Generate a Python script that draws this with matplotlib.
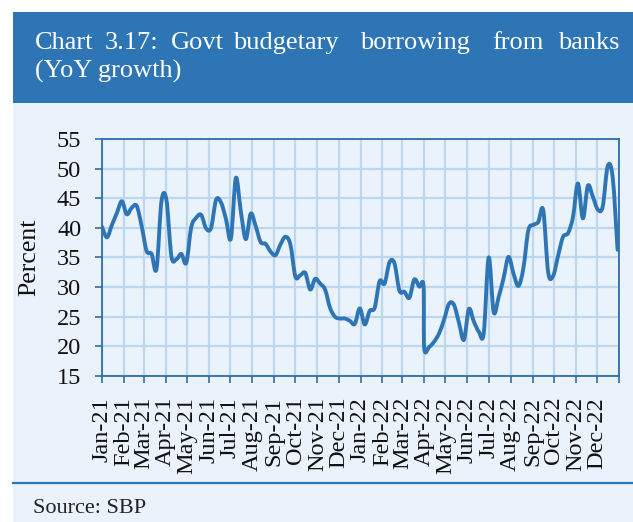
import numpy as np
import pandas as pd
import matplotlib
matplotlib.use('Agg')
import matplotlib.pyplot as plt
import matplotlib.dates as mdates
from matplotlib.path import Path
from matplotlib.patches import PathPatch, Rectangle
from matplotlib.lines import Line2D

# weekly observations (Fridays), YoY growth in percent
weeks = pd.date_range('2021-01-01', '2022-12-30', freq='W-FRI')
growth = [40.2, 38.4, 40.5, 42.5, 44.5, 42.3, 43.4, 43.7, 40.3, 36.1,
          35.6, 33.1, 44.5, 44.7, 35.2, 34.7, 35.6, 34.1, 40.1, 41.7,
          42.2, 39.9, 40.0, 44.7, 44.3, 41.5, 38.2, 48.4, 42.8, 38.1,
          42.4, 40.3, 37.6, 37.3, 36.0, 35.4, 37.2, 38.5, 37.2, 31.8,
          32.0, 32.4, 29.6, 31.4, 30.6, 29.6, 26.5, 25.0, 24.7, 24.7,
          24.3, 23.8, 26.4, 23.7, 26.0, 26.5, 31.0, 30.6, 34.2, 34.0,
          29.4, 29.2, 28.2, 31.3, 30.1, 19.7, 19.9, 20.8, 22.2, 24.5,
          27.2, 27.0, 24.0, 21.1, 26.3, 24.2, 22.5, 22.2, 35.0, 25.8,
          28.3, 31.5, 35.1, 32.3, 30.2, 33.2, 39.6, 40.5, 41.0, 43.0,
          32.5, 31.9, 35.3, 38.5, 39.1, 41.8, 47.5, 41.6, 47.1, 45.3,
          43.1, 43.6, 50.4, 48.6, 36.3]
# one extra end-of-quarter reading
extra_dates = ['2022-03-31']
extra_growth = [30.2]

months = pd.date_range('2021-01-01', '2023-01-01', freq='MS')
month_labels = [m.strftime('%b-%y') for m in months[:-1]] + ['']
yticks = [15, 20, 25, 30, 35, 40, 45, 50, 55]

# justified title: words and their left edges (px)
title_words = ['Chart', '3.17:', 'Govt', 'budgetary', 'borrowing', 'from', 'banks']
title_x = [35, 105, 171, 233, 360, 492, 558]
title_2 = '(YoY growth)'
source = 'Source: SBP'

blue = '#2E75B6'
dark = '#2F6DA8'
panel = '#EAF2FB'
grid = '#BDD7EE'
serif = ['Liberation Serif', 'DejaVu Serif']

s = pd.Series(growth, index=weeks)
s = pd.concat([s, pd.Series(extra_growth, index=pd.to_datetime(extra_dates))]).sort_index()
x = mdates.date2num(s.index.to_pydatetime())
y = s.values
pts = np.column_stack([x, y])

fig = plt.figure(figsize=(6.33, 5.22), dpi=100)
fig.patch.set_facecolor('white')
fig.patches.append(Rectangle((13/633, 0), 1, 1 - 12/522, transform=fig.transFigure,
                             facecolor=panel, edgecolor='none', zorder=-2))
fig.patches.append(Rectangle((13/633, 1 - 103/522), 1, 91/522, transform=fig.transFigure,
                             facecolor=blue, edgecolor='none', zorder=-1))
fig.lines.append(Line2D([13/633, 1], [1 - 483/522] * 2, transform=fig.transFigure,
                        color=blue, lw=1.6))
for w, wx in zip(title_words, title_x):
    fig.text(wx/633, 1 - 49/522, w, color='white', fontsize=19, family=serif,
             va='baseline', ha='left')
fig.text(35/633, 1 - 78/522, title_2, color='white', fontsize=19, family=serif,
         va='baseline', ha='left')
fig.text(33/633, 1 - 513/522, source, color='#222222', fontsize=16, family=serif,
         va='baseline', ha='left')

ax = fig.add_axes([102/633, 1 - 376/522, 517/633, 237/522])
ax.set_zorder(2)
ax.set_facecolor('none')

# smooth line through the weekly points (cubic Bezier segments)
n = len(pts)
verts = [tuple(pts[0])]
for i in range(n - 1):
    p0 = pts[i - 1] if i > 0 else pts[i]
    p1, p2 = pts[i], pts[i + 1]
    p3 = pts[i + 2] if i + 2 < n else pts[i + 1]
    verts += [tuple(p1 + (p2 - p0) / 6), tuple(p2 - (p3 - p1) / 6), tuple(p2)]
codes = [Path.MOVETO] + [Path.CURVE4] * (3 * (n - 1))
ax.add_patch(PathPatch(Path(verts, codes), fill=False, edgecolor=blue, lw=2.8,
                       capstyle='round', joinstyle='round', zorder=3))

ax.set_xlim(mdates.date2num(months[0]), mdates.date2num(months[-1]))
ax.set_ylim(15, 55)
ax.set_xticks(mdates.date2num(months.to_pydatetime()))
ax.set_xticklabels(month_labels, rotation=90, family=serif, fontsize=17.5)
ax.set_yticks(yticks)
ax.set_yticklabels([str(v) for v in yticks], family=serif, fontsize=17.5)
ax.grid(True, color=grid, lw=1.6, zorder=0)
ax.set_axisbelow(True)
for sp in ax.spines.values():
    sp.set_color(dark)
    sp.set_linewidth(1.3)
ax.tick_params(axis='both', color=dark, width=1.2, length=5, labelcolor='#111111')
ax.tick_params(axis='x', pad=10)
ax.tick_params(axis='y', pad=10)
ax.set_ylabel('Percent', family=serif, fontsize=18.5, color='#111111')
ax.yaxis.set_label_coords(-0.12, 0.5)

fig.savefig('out.png', dpi=100, facecolor=fig.get_facecolor())
